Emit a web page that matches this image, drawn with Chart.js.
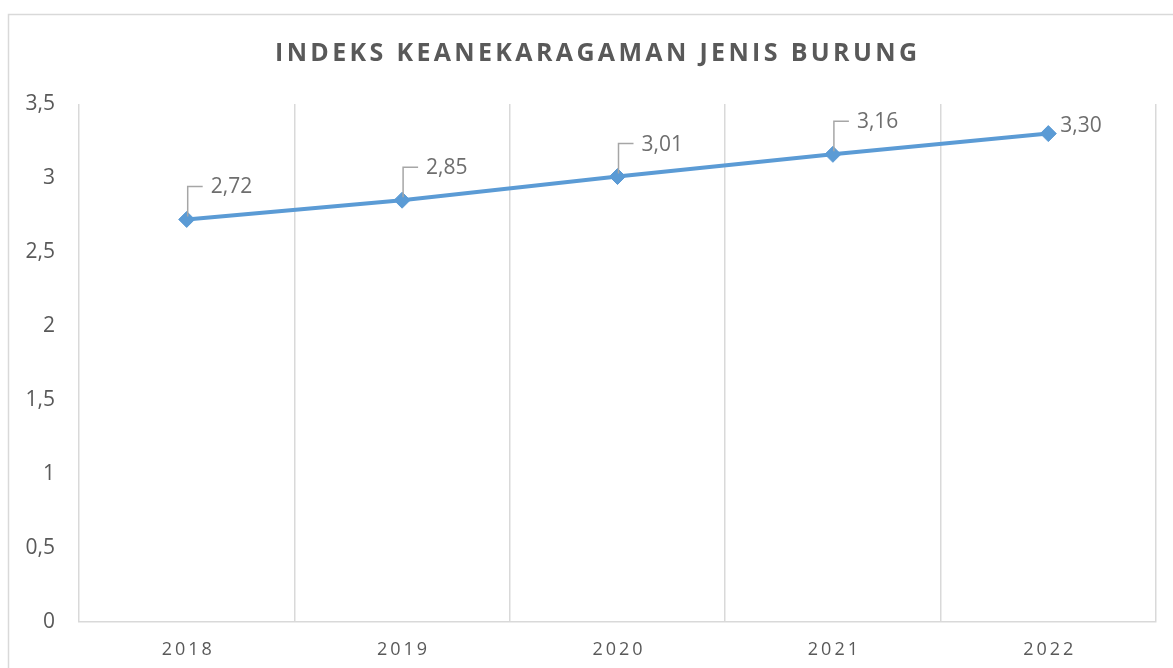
<!DOCTYPE html>
<html>
<head>
<meta charset="utf-8">
<script src="https://cdn.jsdelivr.net/npm/chart.js@4"></script>
<style>
  html, body { margin: 0; padding: 0; background: #fff; }
  #wrap { width: 1173px; height: 668px; position: relative; }
</style>
</head>
<body>
<div id="wrap"><canvas id="birdChart"></canvas></div>
<script>
const years = ["2018", "2019", "2020", "2021", "2022"];
const indexValues = [2.72, 2.85, 3.01, 3.16, 3.30];
const yTicks = [0, 0.5, 1, 1.5, 2, 2.5, 3, 3.5];
const chartTitle = "INDEKS KEANEKARAGAMAN JENIS BURUNG";

const textGray = "#595959";
const labelGray = "#6E6E6E";
const gridGray = "#D9D9D9";
const fontFamily = "'Open Sans', 'Liberation Sans', sans-serif";

const commaNum = (v, d) => (d == null ? String(v) : v.toFixed(d)).replace(".", ",");

/* frame + title */
const framePlugin = {
    id: "frame",
    beforeDraw(chart) {
        const ctx = chart.ctx;
        ctx.save();
        ctx.fillStyle = "#fff";
        ctx.fillRect(0, 0, chart.width, chart.height);
        ctx.strokeStyle = gridGray;
        ctx.lineWidth = 1.5;
        ctx.strokeRect(8.5, 14.5, 1300, 800);
        ctx.fillStyle = textGray;
        ctx.font = "bold 25px " + fontFamily;
        // spread the letters so the title spans roughly 642px, like the original
        const plain = ctx.measureText(chartTitle).width;
        const gap = Math.max(0, (642 - plain) / (chartTitle.length - 1));
        ctx.letterSpacing = gap.toFixed(2) + "px";
        ctx.textAlign = "center";
        ctx.textBaseline = "middle";
        ctx.fillText(chartTitle, 596 + gap / 2, 54);
        ctx.restore();
    }
};

/* data labels with leader lines */
const labelPlugin = {
    id: "valueLabels",
    afterDatasetsDraw(chart) {
        const ctx = chart.ctx;
        const meta = chart.getDatasetMeta(0);
        ctx.save();
        ctx.font = "21px " + fontFamily;
        ctx.fillStyle = labelGray;
        ctx.textBaseline = "middle";
        ctx.textAlign = "left";
        meta.data.forEach((pt, i) => {
            const txt = commaNum(indexValues[i], 2);
            const last = i === meta.data.length - 1;
            if (last) {
                ctx.fillText(txt, pt.x + 12, pt.y - 8);
            } else {
                ctx.strokeStyle = "#A6A6A6";
                ctx.lineWidth = 1.5;
                ctx.beginPath();
                ctx.moveTo(pt.x + 1, pt.y - 3);
                ctx.lineTo(pt.x + 1, pt.y - 33);
                ctx.lineTo(pt.x + 16, pt.y - 33);
                ctx.stroke();
                ctx.fillText(txt, pt.x + 24, pt.y - 32);
            }
        });
        ctx.restore();
    }
};

new Chart(document.getElementById("birdChart").getContext("2d"), {
    type: "line",
    data: {
        labels: years,
        datasets: [{
            data: indexValues,
            borderColor: "#5B9BD5",
            backgroundColor: "#5B9BD5",
            borderWidth: 4,
            pointStyle: "rectRot",
            pointRadius: 8,
            pointBorderWidth: 1,
            tension: 0
        }]
    },
    options: {
        responsive: true,
        maintainAspectRatio: false,
        animation: false,
        layout: { padding: { top: 104, right: 17, left: 0, bottom: 0 } },
        plugins: {
            legend: { display: false },
            title: { display: false },
            tooltip: { enabled: false }
        },
        scales: {
            x: {
                offset: true,
                grid: { offset: true, color: gridGray, lineWidth: 1.5, drawTicks: false },
                border: { display: true, color: gridGray, width: 1.5 },
                ticks: {
                    color: textGray,
                    padding: 17,
                    font: { size: 18, family: fontFamily },
                    callback: function (v) {
                        return this.getLabelForValue(v).split("").join("\u2009");
                    }
                },
                afterFit(scale) { scale.height = 46; }
            },
            y: {
                min: 0,
                max: 3.5,
                afterBuildTicks(scale) { scale.ticks = yTicks.map(v => ({ value: v })); },
                grid: { display: false, drawTicks: false },
                border: { display: false },
                ticks: {
                    color: textGray,
                    padding: 24,
                    font: { size: 21, family: fontFamily },
                    callback: v => commaNum(v)
                },
                afterFit(scale) { scale.width = 79; }
            }
        }
    },
    plugins: [framePlugin, labelPlugin]
});
</script>
</body>
</html>
